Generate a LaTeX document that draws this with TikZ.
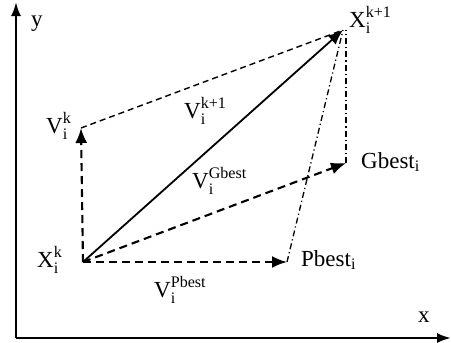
\documentclass[tikz,border=0pt]{standalone}
\usepackage{amsmath}
\usepackage{fontspec}
\setmainfont{Liberation Serif}
\usetikzlibrary{arrows.meta}

% labels: letter with stacked sub- and superscript
\newcommand{\vlab}[3]{#1$_{\text{#2}}^{\text{#3}}$}

\tikzset{
  axisline/.style={line width=2.2pt, -{Latex[length=14pt,width=10pt]}},
  bigdash/.style={line width=2.1pt, dash pattern=on 8pt off 5pt, -{Latex[length=15pt,width=12pt]}},
  thindash/.style={line width=1.4pt, dash pattern=on 6pt off 4pt},
  dashdot/.style={line width=1.3pt, dash pattern=on 6pt off 3pt on 1.2pt off 3pt},
  lab/.style={anchor=west, inner sep=0pt, font=\fontsize{23}{26}\selectfont},
}

\begin{document}
\begin{tikzpicture}[x=1pt, y=-1pt]
  \useasboundingbox (0,0) rectangle (451,343);

  % Axes
  \coordinate (O) at (16,338);
  \coordinate (ytop) at (16,2);
  \coordinate (xend) at (451,338);
  \draw[axisline] (O) -- (ytop);
  \draw[axisline] (O) -- (xend);
  \node[lab] (ylab) at (31,24) {y};
  \node[lab] (xlab) at (418,317) {x};

  % Points
  \coordinate (Xk) at (83,262);
  \coordinate (Vk) at (81,128);
  \coordinate (Xk1) at (343,30);
  \coordinate (Gb) at (346,163);
  \coordinate (Pb) at (287,262);

  % Labels
  \node[lab] (XkLab) at (37,260) {\vlab{X}{i}{k}};
  \node[lab] (VkLab) at (46,126) {\vlab{V}{i}{k}};
  \node[lab] (Xk1Lab) at (349,20) {\vlab{X}{i}{k+1}};
  \node[lab] (GbLab) at (361,162) {Gbest\textsubscript{i}};
  \node[lab] (PbLab) at (301,260) {Pbest\textsubscript{i}};
  \node[lab] (Vk1Lab) at (184,111) {\vlab{V}{i}{k+1}};
  \node[lab] (VgLab) at (192,181) {\vlab{V}{i}{Gbest}};
  \node[lab] (VpLab) at (154,290) {\vlab{V}{i}{Pbest}};

  % Velocity components
  \draw[bigdash] (Xk) -- (Vk);
  \draw[bigdash] (Xk) -- (Pb);
  \draw[bigdash] (Xk) -- (Gb);
  \draw[line width=1.8pt, -{Latex[length=15pt,width=12pt]}] (Xk) -- (Xk1);

  % Construction lines
  \draw[thindash] (Vk) -- (Xk1);
  \draw[dashdot] (Gb) -- (Xk1 -| Gb);
  \draw[dashdot] (Pb) -- (Xk1);
\end{tikzpicture}
\end{document}
